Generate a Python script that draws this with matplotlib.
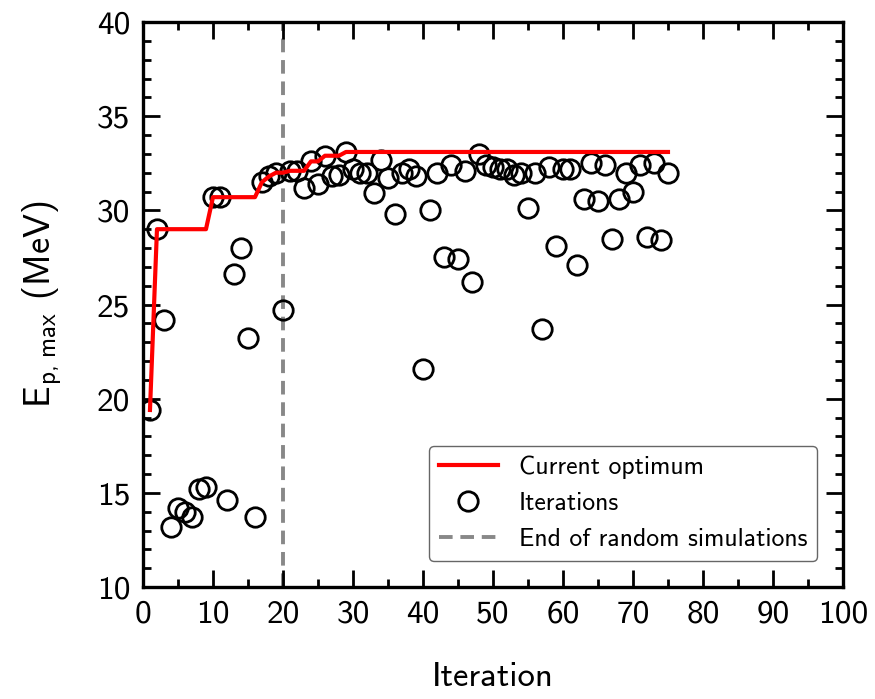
import matplotlib
matplotlib.use("Agg")
import matplotlib.pyplot as plt
import numpy as np
from matplotlib.ticker import MultipleLocator

plt.rcParams['font.family'] = ['cmss10', 'DejaVu Sans']
plt.rcParams['mathtext.fontset'] = 'custom'
plt.rcParams['mathtext.rm'] = 'cmss10'
plt.rcParams['mathtext.it'] = 'cmss10'
plt.rcParams['axes.unicode_minus'] = False

iterations = list(range(1, 76))
energies = [
    19.4, 29.0, 24.2, 13.2, 14.2, 14.0, 13.7, 15.2, 15.3, 30.7,
    30.7, 14.6, 26.6, 28.0, 23.2, 13.7, 31.5, 31.8, 32.0, 24.7,
    32.1, 32.1, 31.2, 32.6, 31.4, 32.9, 31.8, 31.9, 33.1, 32.2,
    32.0, 32.0, 30.9, 32.7, 31.7, 29.8, 32.0, 32.2, 31.8, 21.6,
    30.0, 32.0, 27.5, 32.4, 27.4, 32.1, 26.2, 33.0, 32.4, 32.3,
    32.2, 32.2, 31.9, 32.0, 30.1, 32.0, 23.7, 32.3, 28.1, 32.2,
    32.2, 27.1, 30.6, 32.5, 30.5, 32.4, 28.5, 30.6, 32.0, 31.0,
    32.4, 28.6, 32.5, 28.4, 32.0,
]
optimum = np.maximum.accumulate(energies)
end_random = 20

fig = plt.figure(figsize=(8.75, 6.99), dpi=100)
ax = fig.add_axes([0.1634, 0.1602, 0.80, 0.8083])

ax.plot(iterations, optimum, color='#ff0000', lw=3.0, label='Current optimum', zorder=3)
ax.plot(iterations, energies, 'o', mfc='none', mec='black', mew=2.0, ms=14,
        label='Iterations', zorder=2)
ax.axvline(end_random, color='#888888', lw=2.8, ls=(0, (3.5, 2)),
           label='End of random simulations', zorder=1)

ax.set_xlim(0, 100)
ax.set_ylim(10, 40)
ax.xaxis.set_major_locator(MultipleLocator(10))
ax.xaxis.set_minor_locator(MultipleLocator(5))
ax.yaxis.set_major_locator(MultipleLocator(5))
ax.yaxis.set_minor_locator(MultipleLocator(1))
ax.tick_params(which='both', direction='in', top=True, right=True, width=2.0,
               labelsize=24, pad=9)
ax.tick_params(which='major', length=12)
ax.tick_params(which='minor', length=6)
for s in ax.spines.values():
    s.set_linewidth(2.4)

ax.set_xlabel('Iteration', fontsize=25, labelpad=24)
ax.set_ylabel(r'$\mathrm{E_{p,\,max}}$ (MeV)', fontsize=26, labelpad=24)

leg = ax.legend(loc='lower right', fontsize=18.5, frameon=True, fancybox=True,
                edgecolor='#666666', framealpha=1, handlelength=2.3,
                borderaxespad=1.0)
leg.get_frame().set_linewidth(1.0)

fig.savefig('out.png', dpi=100)
